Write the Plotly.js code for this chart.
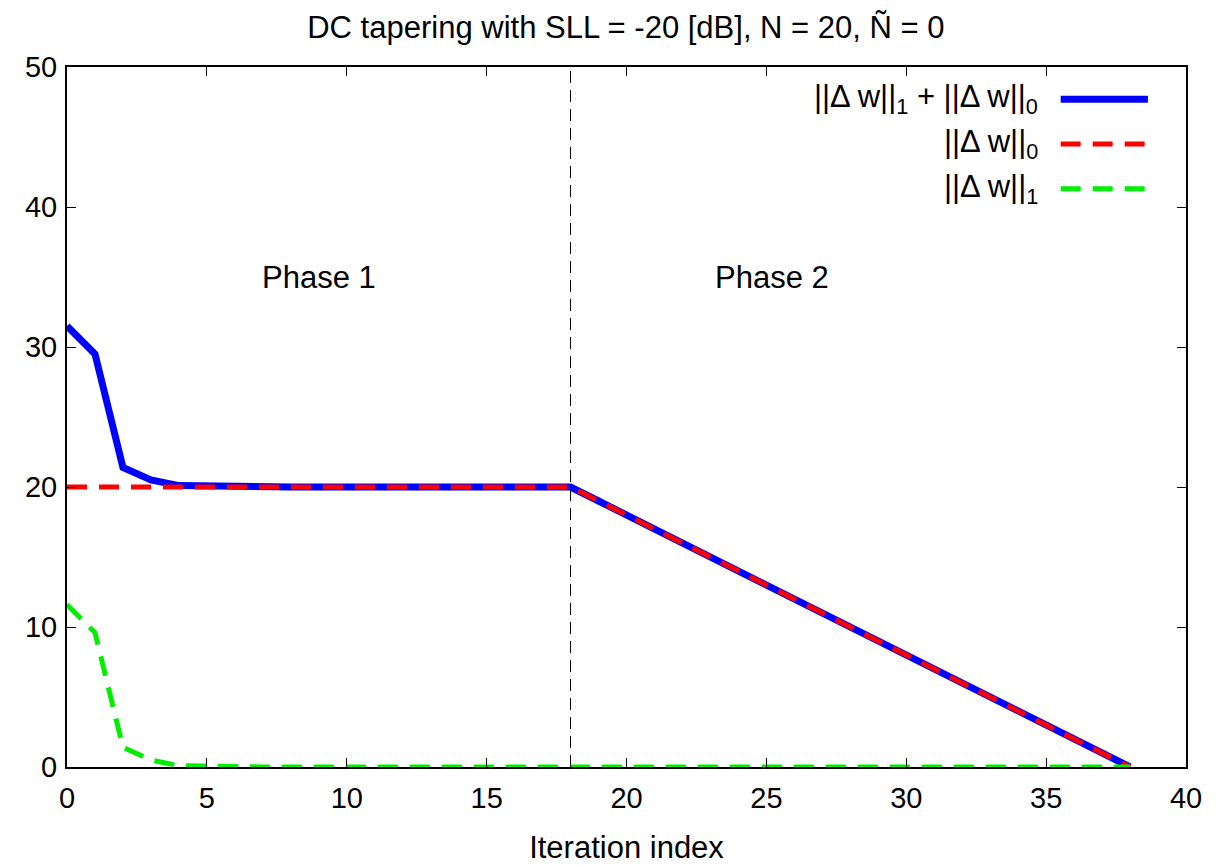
<!DOCTYPE html>
<html>
<head>
<meta charset="utf-8">
<script src="https://cdn.plot.ly/plotly-3.0.1.min.js"></script>
<style>html,body{margin:0;padding:0;background:#fff;}#chart{width:1220px;height:865px;}</style>
</head>
<body>
<div id="chart"></div>
<script>
const iterations = [0,1,2,3,4,5,6,7,8,9,10,11,12,13,14,15,16,17,18,19,20,21,22,23,24,25,26,27,28,29,30,31,32,33,34,35,36,37,38];
const totalNorm = [31.5,29.5,21.4,20.5,20.1,20.05,20,20,20,20,20,20,20,20,20,20,20,20,20,19,18,17,16,15,14,13,12,11,10,9,8,7,6,5,4,3,2,1,0];
const l0Norm = [20,20,20,20,20,20,20,20,20,20,20,20,20,20,20,20,20,20,20,19,18,17,16,15,14,13,12,11,10,9,8,7,6,5,4,3,2,1,0];
const l1Norm = [11.6,9.6,1.4,0.5,0.1,0.05,0,0,0,0,0,0,0,0,0,0,0,0,0,0,0,0,0,0,0,0,0,0,0,0,0,0,0,0,0,0,0,0,0];
const phaseBoundary = 18;
const phaseLabels = [{text:'Phase 1', x:9, y:35},{text:'Phase 2', x:25.2, y:35}];
const seriesNames = ['||Δ w||<sub>1</sub> + ||Δ w||<sub>0</sub>','||Δ w||<sub>0</sub>','||Δ w||<sub>1</sub>'];
const seriesColors = ['#0000ff','#ff0000','#00ee00'];

function F(s){ return {family:'Liberation Sans', size:s, color:'#000000'}; }

const traces = [
  {x:iterations, y:totalNorm, mode:'lines', line:{color:seriesColors[0], width:7}, showlegend:false},
  {x:iterations, y:l0Norm, mode:'lines', line:{color:seriesColors[1], width:5, dash:'20px,12px'}, showlegend:false},
  {x:iterations, y:l1Norm, mode:'lines', line:{color:seriesColors[2], width:5, dash:'20px,12px'}, showlegend:false}
];

const legendY = [0.954, 0.890, 0.826];
const legendDash = ['solid','20px,12px','20px,12px'];
const legendWidth = [7,5,5];
const shapes = [
  {type:'line', xref:'x', yref:'paper', x0:phaseBoundary, x1:phaseBoundary, y0:0, y1:1, line:{color:'#000', width:1, dash:'12px,7px'}}
];
const annotations = phaseLabels.map(p => ({x:p.x, y:p.y, xref:'x', yref:'y', text:p.text, showarrow:false, font:F(31)}));
seriesNames.forEach((n,i) => {
  shapes.push({type:'line', xref:'paper', yref:'paper', x0:0.888, x1:0.966, y0:legendY[i], y1:legendY[i], line:{color:seriesColors[i], width:legendWidth[i], dash:legendDash[i]}});
  annotations.push({x:0.8695, y:legendY[i], xref:'paper', yref:'paper', xanchor:'right', yanchor:'middle', text:n, showarrow:false, font:F(31)});
});

const layout = {
  width:1220, height:865,
  margin:{l:67, r:34, t:67, b:98},
  paper_bgcolor:'#fff', plot_bgcolor:'#fff',
  font:F(29),
  title:{text:'DC tapering with SLL = -20 [dB], N = 20, Ñ = 0', x:0.513, xanchor:'center', y:0.969, yanchor:'middle', font:F(31)},
  xaxis:{range:[0,40], dtick:5, tick0:0, ticks:'inside', ticklen:9, tickcolor:'#000', showline:true, linecolor:'#000', linewidth:2, mirror:'ticks', showgrid:false, zeroline:false, ticklabelstandoff:4, title:{text:'Iteration index', font:F(31), standoff:26}, tickfont:F(29)},
  yaxis:{range:[0,50], dtick:10, tick0:0, ticks:'inside', ticklen:9, tickcolor:'#000', showline:true, linecolor:'#000', linewidth:2, mirror:'ticks', showgrid:false, zeroline:false, ticklabelstandoff:2, tickfont:F(29)},
  shapes:shapes,
  annotations:annotations,
  showlegend:false
};
Plotly.newPlot('chart', traces, layout, {displayModeBar:false, staticPlot:true});
</script>
</body>
</html>
